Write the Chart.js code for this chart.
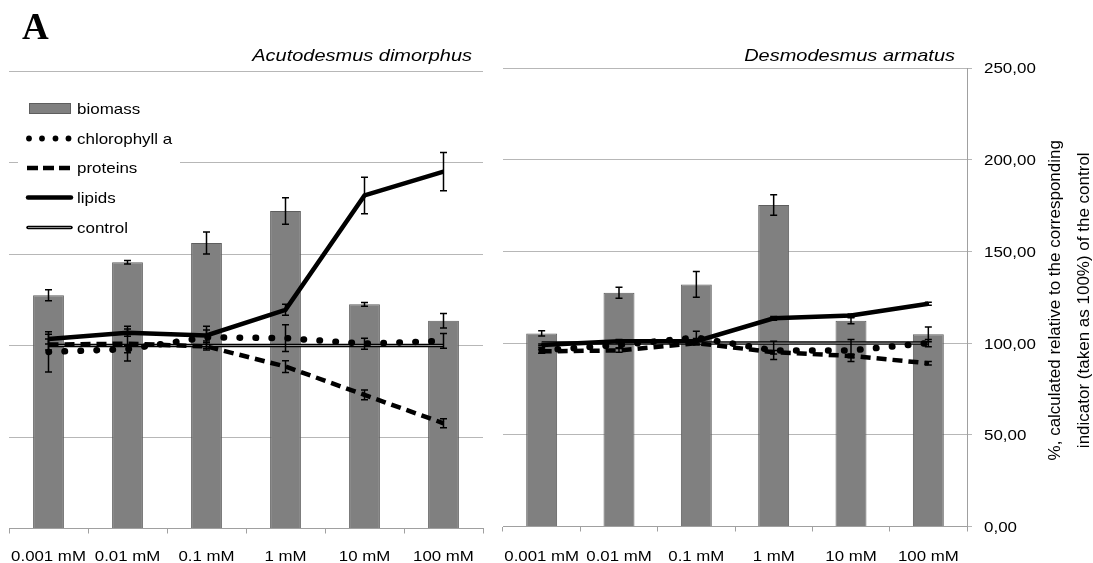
<!DOCTYPE html>
<html><head><meta charset="utf-8">
<script src="https://cdn.jsdelivr.net/npm/chart.js@4.4.1/dist/chart.umd.min.js"></script>
<style>
html,body{margin:0;padding:0;background:#fff;width:1093px;height:563px;overflow:hidden;}
canvas{position:absolute;top:0;}
#c1{left:0;}
#c2{left:495px;}
</style></head><body>
<canvas id="c1" width="495" height="563"></canvas>
<canvas id="c2" width="598" height="563"></canvas>
<script>
// ---------- data ----------
const categories = ['0.001 mM','0.01 mM','0.1 mM','1 mM','10 mM','100 mM'];
const yTickValues = [0,50,100,150,200,250];
const yTickLabels = ['0,00','50,00','100,00','150,00','200,00','250,00'];
const panelTitles = ['Acutodesmus dimorphus','Desmodesmus armatus'];
const legendLabels = ['biomass','chlorophyll a','proteins','lipids','control'];
const axisTitleLines = ['%, calculated relative to the corresponding','indicator (taken as 100%) of the control'];

const control = [100,100,100,100,100,100];

// Acutodesmus dimorphus
const adBiomass = [127.5,145.5,156,173.5,122.5,113.5];
const adBiomassErr = [3,1,6,7.3,1,4];
const adChlorophyll = [96.5,98,104.5,104,101,102.5];
const adChlorophyllErr = [11,2,6,7.3,3,4];
const adProteins = [100.5,101,99.5,88.5,73,57.5];
const adProteinsErr = [3,9.5,2,3.2,2.7,2.5];
const adLipids = [103.5,107,105.5,119.5,182,195];
const adLipidsErr = [2.7,2,3,3,10,10.5];

// Desmodesmus armatus
const daBiomass = [105.3,127.5,132,175.3,112.2,104.8];
const daBiomassErr = [1.4,3,7,5.6,1.6,4];
const daChlorophyll = [96,99,103,96,96,100];
const daChlorophyllErr = [1.5,1.5,3.5,5,6,2];
const daProteins = [95.5,96,100,95,93,89];
const daProteinsErr = [1,1,1,1,1,1];
const daLipids = [99,101,101,113.5,115,121.5];
const daLipidsErr = [0.5,1,1.5,1,0.8,0.8];

// ---------- style ----------
const SANS = '"Liberation Sans", Arial, sans-serif';
const GRID = '#b7b7b7';
const AXIS = '#a0a0a0';
const BAR_FILL = '#808080';
const BAR_EDGE = '#5e5e5e';

function sText(ctx, txt, x, y, font, align, sx){
  ctx.save();
  ctx.font = font; ctx.textAlign = align; ctx.textBaseline = 'alphabetic';
  ctx.fillStyle = '#000';
  ctx.translate(x, y); ctx.scale(sx, 1);
  ctx.fillText(txt, 0, 0);
  ctx.restore();
}

const errorBarPlugin = {
  id: 'errbars',
  afterDatasetsDraw(chart){
    const ctx = chart.ctx, ys = chart.scales.y;
    chart.data.datasets.forEach((ds, di) => {
      if (!ds.errorBars) return;
      const meta = chart.getDatasetMeta(di);
      meta.data.forEach((el, i) => {
        const v = ds.data[i], e = ds.errorBars[i];
        if (!e) return;
        const x = el.x, yt = ys.getPixelForValue(v + e), yb = ys.getPixelForValue(v - e);
        ctx.save();
        ctx.strokeStyle = '#000'; ctx.lineWidth = 1.5; ctx.setLineDash([]); ctx.lineCap = 'butt';
        ctx.beginPath();
        ctx.moveTo(x, yt); ctx.lineTo(x, yb);
        ctx.moveTo(x - 3.5, yt); ctx.lineTo(x + 3.5, yt);
        ctx.moveTo(x - 3.5, yb); ctx.lineTo(x + 3.5, yb);
        ctx.stroke();
        ctx.restore();
      });
    });
  }
};

const xLabelPlugin = {
  id: 'xlabels',
  afterDraw(chart){
    const ctx = chart.ctx, xs = chart.scales.x;
    categories.forEach((c, i) => {
      sText(ctx, c, xs.getPixelForValue(i), 561, '14.5px ' + SANS, 'center', 1.16);
    });
  }
};

function datasets(bio, bioErr, chl, chlErr, pro, proErr, lip, lipErr, barPct){
  return [
    {type:'line', label:'control', data:control, borderColor:'#000', borderWidth:3.5, pointRadius:0, tension:0, order:6},
    {type:'line', label:'control', data:control, borderColor:'#8a8a8a', borderWidth:1.1, pointRadius:0, tension:0, order:5},
    {type:'line', label:'chlorophyll a', data:chl, errorBars:chlErr, borderColor:'#000', borderWidth:6.5, borderDash:[0.5,15.5], borderCapStyle:'round', pointRadius:0, tension:0, order:3},
    {type:'line', label:'proteins', data:pro, errorBars:proErr, borderColor:'#000', borderWidth:4.5, borderDash:[10,6], borderCapStyle:'butt', pointRadius:0, tension:0, order:2},
    {type:'line', label:'lipids', data:lip, errorBars:lipErr, borderColor:'#000', borderWidth:4.5, pointRadius:0, tension:0, order:1},
    {type:'bar', label:'biomass', data:bio, errorBars:bioErr, backgroundColor:BAR_FILL, borderColor:BAR_EDGE, borderWidth:1, barPercentage:barPct, categoryPercentage:1, order:10}
  ];
}

function xScale(bottomH){
  return {
    offset:true,
    grid:{offset:true, drawOnChartArea:false, drawTicks:true, tickLength:5, color:AXIS, lineWidth:1},
    border:{display:true, color:AXIS, width:1},
    ticks:{display:false},
    afterFit(s){ s.height = bottomH; }
  };
}

// ---------- left chart ----------
const leftTextPlugin = {
  id: 'lefttext',
  afterDraw(chart){
    const ctx = chart.ctx;
    ctx.save(); ctx.font = 'bold 37px "Liberation Serif", "Times New Roman", serif';
    ctx.fillStyle = '#000'; ctx.textBaseline = 'alphabetic'; ctx.fillText('A', 22, 39); ctx.restore();
    sText(ctx, panelTitles[0], 472, 61, 'italic 16.5px ' + SANS, 'right', 1.21);
    ctx.save();
    ctx.fillStyle = '#fff'; ctx.fillRect(18, 92, 162, 150);
    const ys = [108.5, 138.5, 168, 197.5, 227.5];
    ctx.fillStyle = BAR_FILL; ctx.strokeStyle = BAR_EDGE; ctx.lineWidth = 1;
    ctx.fillRect(29.5, 103.5, 41, 10); ctx.strokeRect(29.5, 103.5, 41, 10);
    ctx.fillStyle = '#000';
    [29, 42, 55.5, 68.5].forEach(x => { ctx.beginPath(); ctx.arc(x, ys[1], 2.9, 0, Math.PI*2); ctx.fill(); });
    ctx.strokeStyle = '#000'; ctx.lineWidth = 4.5; ctx.lineCap = 'butt';
    ctx.setLineDash([11,5]); ctx.beginPath(); ctx.moveTo(27, ys[2]); ctx.lineTo(72, ys[2]); ctx.stroke();
    ctx.setLineDash([]);
    ctx.lineWidth = 4.5; ctx.lineCap = 'round';
    ctx.beginPath(); ctx.moveTo(28, ys[3]); ctx.lineTo(71, ys[3]); ctx.stroke();
    ctx.lineWidth = 3.5;
    ctx.beginPath(); ctx.moveTo(28, ys[4]); ctx.lineTo(71, ys[4]); ctx.stroke();
    ctx.strokeStyle = '#8a8a8a'; ctx.lineWidth = 1.1; ctx.lineCap = 'butt';
    ctx.beginPath(); ctx.moveTo(28, ys[4]); ctx.lineTo(71, ys[4]); ctx.stroke();
    ctx.restore();
    legendLabels.forEach((t, i) => sText(ctx, t, 77, ys[i] + 5, '14.5px ' + SANS, 'left', 1.17));
  }
};

new Chart(document.getElementById('c1'), {
  type:'bar',
  data:{labels:categories, datasets:datasets(adBiomass, adBiomassErr, adChlorophyll, adChlorophyllErr, adProteins, adProteinsErr, adLipids, adLipidsErr, 0.39)},
  options:{
    responsive:false, animation:false, events:[],
    layout:{padding:{top:71, left:9, right:12, bottom:0}},
    plugins:{legend:{display:false}, tooltip:{enabled:false}},
    scales:{
      x:xScale(563 - 528.5),
      y:{min:0, max:250, ticks:{display:false, stepSize:50}, grid:{color:GRID, drawTicks:false}, border:{display:false},
         afterFit(s){ s.width = 0; }}
    }
  },
  plugins:[errorBarPlugin, xLabelPlugin, leftTextPlugin]
});

// ---------- right chart ----------
const rightTextPlugin = {
  id: 'righttext',
  afterDraw(chart){
    const ctx = chart.ctx, ys = chart.scales.y;
    sText(ctx, panelTitles[1], 955 - 495, 61, 'italic 16.5px ' + SANS, 'right', 1.21);
    yTickValues.forEach((v, i) => {
      sText(ctx, yTickLabels[i], 984 - 495, ys.getPixelForValue(v) + 5.4, '15px ' + SANS, 'left', 1.13);
    });
    ctx.save();
    ctx.font = '17px ' + SANS; ctx.fillStyle = '#000'; ctx.textAlign = 'center'; ctx.textBaseline = 'alphabetic';
    const cy = (chart.chartArea.top + chart.chartArea.bottom) / 2 + 3;
    [1059.5, 1089].forEach((bx, i) => {
      ctx.save(); ctx.translate(bx - 495, cy); ctx.rotate(-Math.PI/2);
      ctx.fillText(axisTitleLines[i], 0, 0); ctx.restore();
    });
    ctx.restore();
  }
};

new Chart(document.getElementById('c2'), {
  type:'bar',
  data:{labels:categories, datasets:datasets(daBiomass, daBiomassErr, daChlorophyll, daChlorophyllErr, daProteins, daProteinsErr, daLipids, daLipidsErr, 0.40)},
  options:{
    responsive:false, animation:false, events:[],
    layout:{padding:{top:68, left:8, right:0, bottom:0}},
    plugins:{legend:{display:false}, tooltip:{enabled:false}},
    scales:{
      x:xScale(563 - 526.5),
      y:{position:'right', min:0, max:250, ticks:{display:false, stepSize:50},
         grid:{color:GRID, drawTicks:true, tickLength:5}, border:{display:true, color:AXIS},
         afterFit(s){ s.width = 598 - 472; }}
    }
  },
  plugins:[errorBarPlugin, xLabelPlugin, rightTextPlugin]
});
</script>
</body></html>
